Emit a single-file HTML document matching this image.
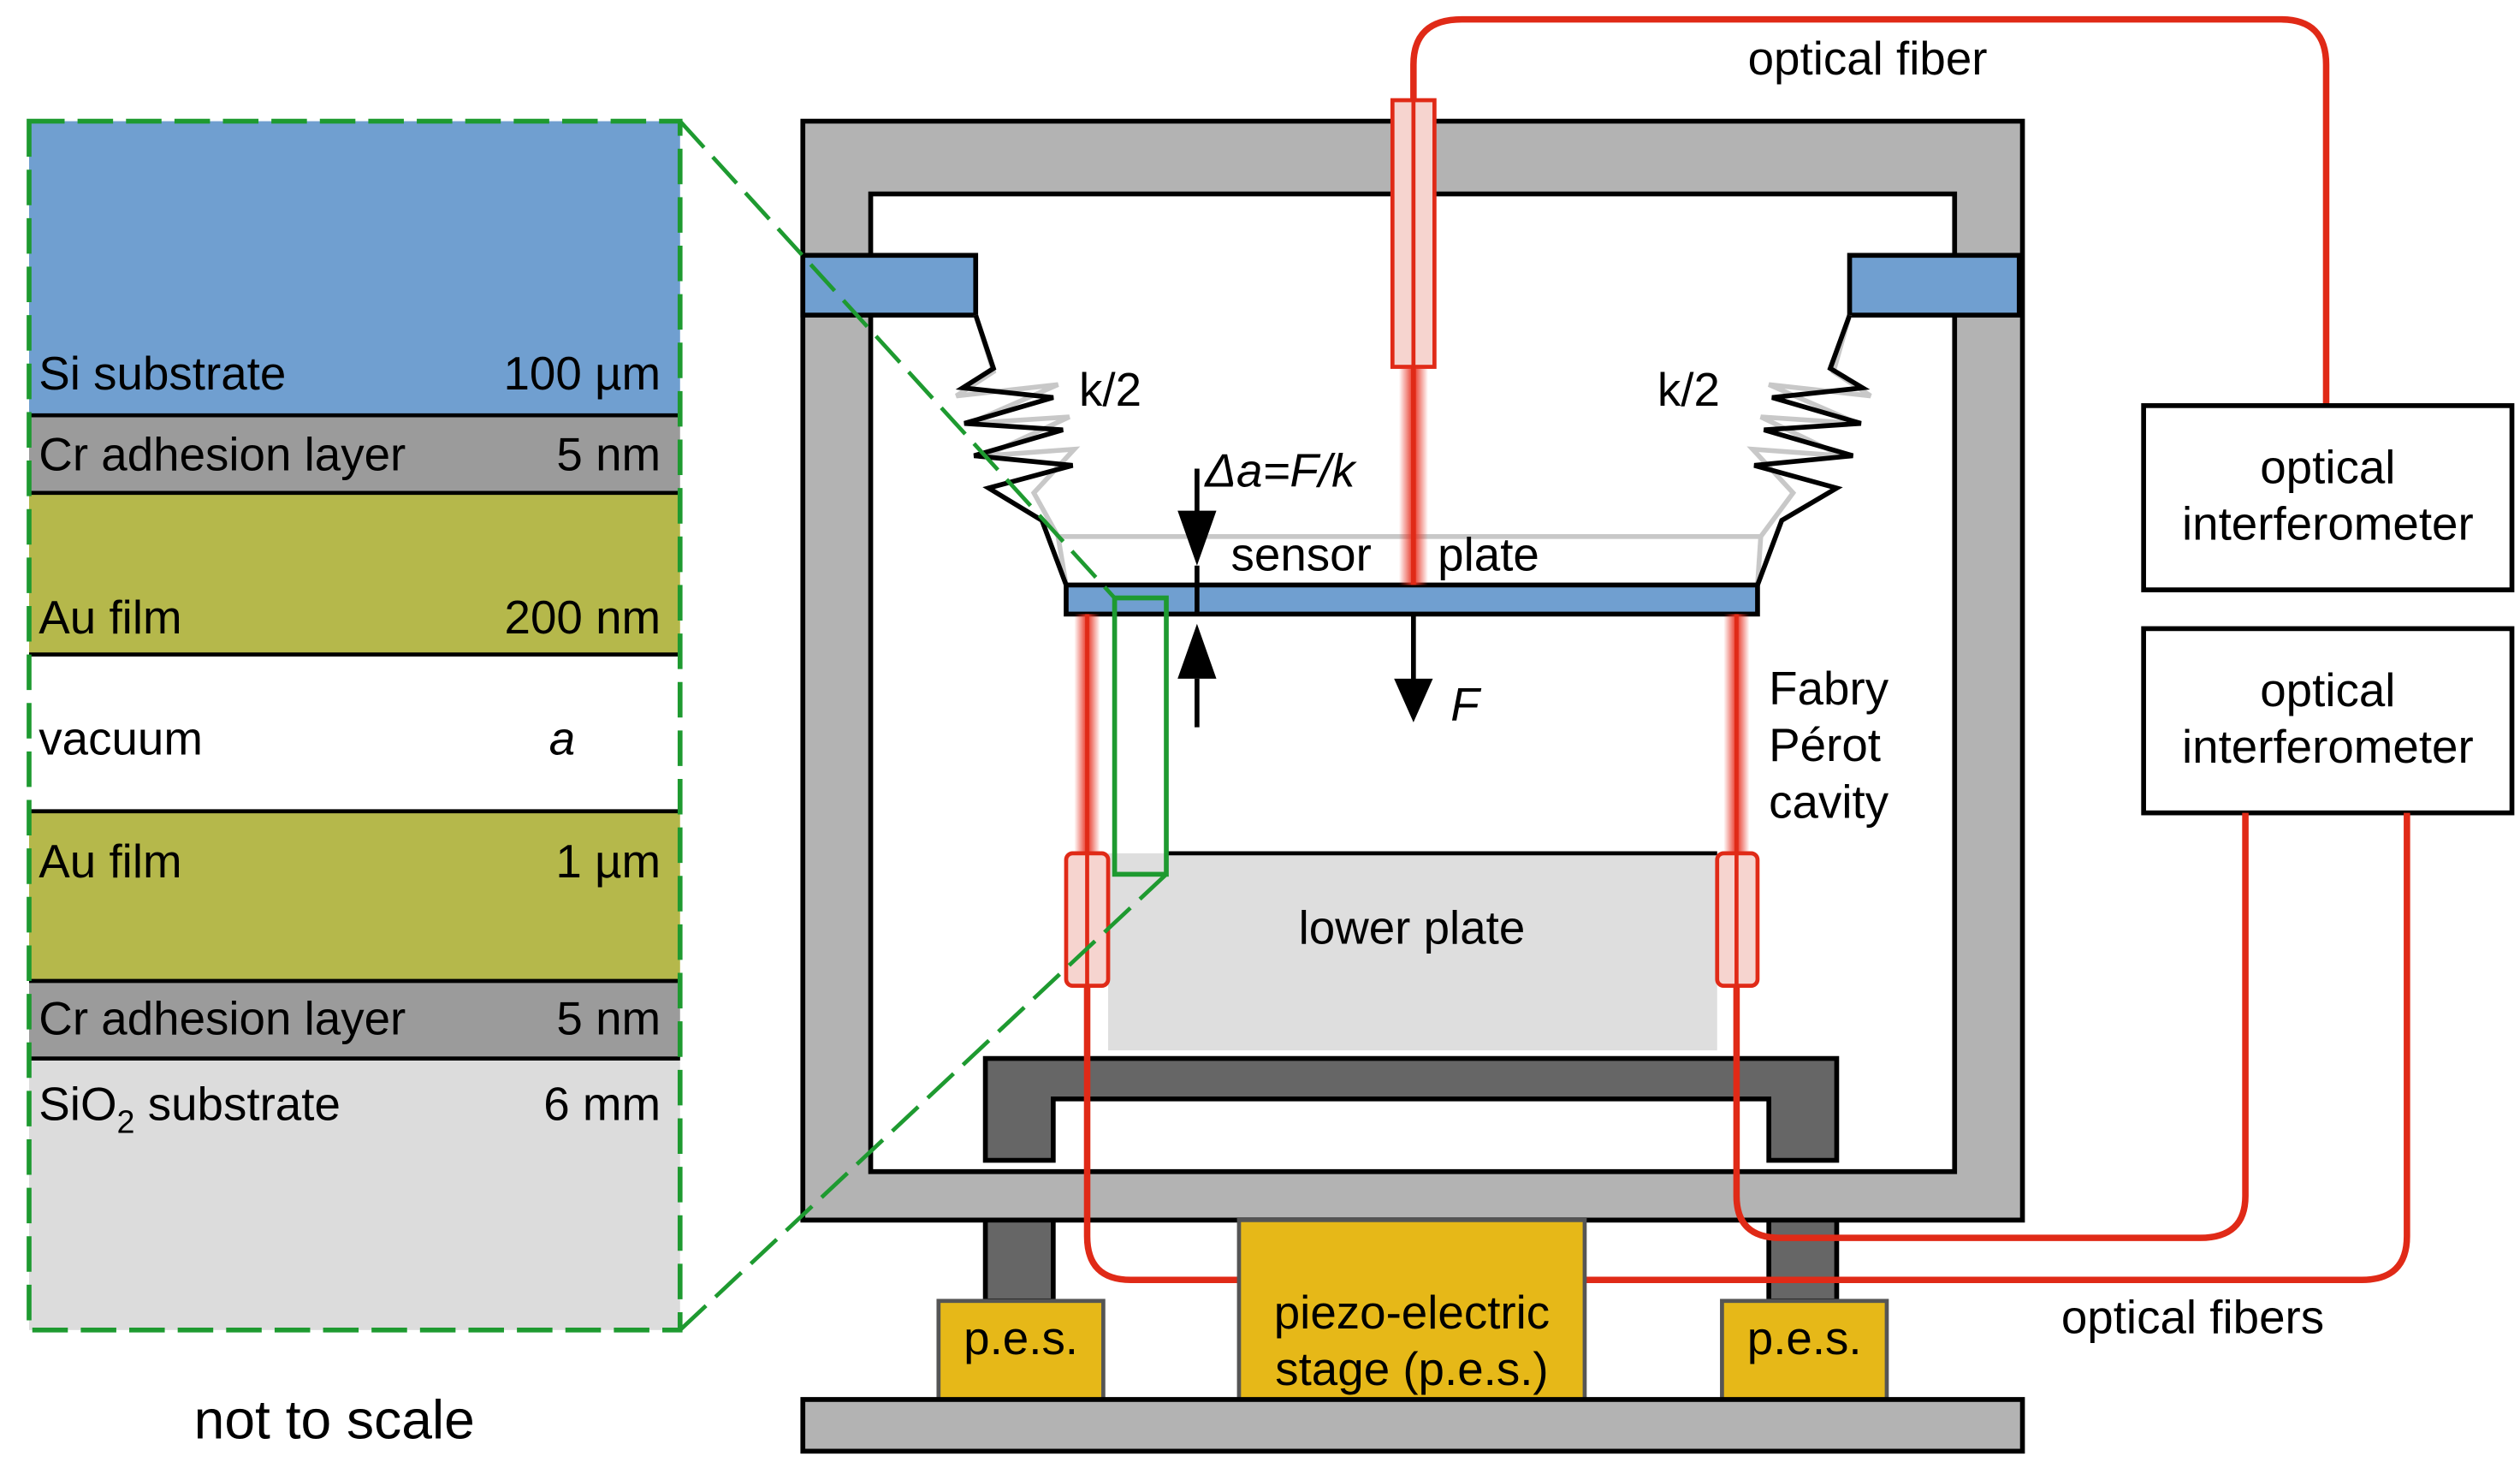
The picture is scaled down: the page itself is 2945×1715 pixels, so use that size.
<!DOCTYPE html>
<html><head><meta charset="utf-8"><style>
html,body{margin:0;padding:0;background:#fff}
svg{display:block}
text{font-family:"Liberation Sans","DejaVu Sans",sans-serif;fill:#000}
</style></head><body>
<svg width="2945" height="1715" viewBox="0 0 1560 908.4" preserveAspectRatio="none" xmlns="http://www.w3.org/2000/svg">
<defs>
<linearGradient id="beamH" x1="0" x2="1" y1="0" y2="0">
<stop offset="0" stop-color="#e83020" stop-opacity="0"/>
<stop offset="0.5" stop-color="#e83020" stop-opacity="1"/>
<stop offset="1" stop-color="#e83020" stop-opacity="0"/>
</linearGradient>
</defs>
<rect x="18" y="75" width="403" height="182" fill="#709fd0"/>
<rect x="18" y="257" width="403" height="48" fill="#9b9b9b"/>
<rect x="18" y="305" width="403" height="100" fill="#b5b84b"/>
<rect x="18" y="405" width="403" height="97" fill="#fff"/>
<rect x="18" y="502" width="403" height="105" fill="#b5b84b"/>
<rect x="18" y="607" width="403" height="48" fill="#9b9b9b"/>
<rect x="18" y="655" width="403" height="168" fill="#dcdcdc"/>
<g stroke="#000" stroke-width="2.5">
<line x1="18" y1="257" x2="421" y2="257"/><line x1="18" y1="305" x2="421" y2="305"/>
<line x1="18" y1="405" x2="421" y2="405"/><line x1="18" y1="502" x2="421" y2="502"/>
<line x1="18" y1="607" x2="421" y2="607"/><line x1="18" y1="655" x2="421" y2="655"/>
</g>
<rect x="18" y="75" width="403" height="748" fill="none" stroke="#1e9a30" stroke-width="3" stroke-dasharray="22,8"/>
<g font-size="29">
<text x="24" y="241">Si substrate</text><text x="409" y="241" text-anchor="end">100 µm</text>
<text x="24" y="291">Cr adhesion layer</text><text x="409" y="291" text-anchor="end">5 nm</text>
<text x="24" y="392">Au film</text><text x="409" y="392" text-anchor="end">200 nm</text>
<text x="24" y="467">vacuum</text><text x="348" y="467" font-style="italic" text-anchor="middle">a</text>
<text x="24" y="543">Au film</text><text x="409" y="543" text-anchor="end">1 µm</text>
<text x="24" y="640">Cr adhesion layer</text><text x="409" y="640" text-anchor="end">5 nm</text>
<text x="24" y="693">SiO<tspan font-size="20" dy="8">2</tspan><tspan dy="-8"> substrate</tspan></text><text x="409" y="693" text-anchor="end">6 mm</text>
</g>
<text x="207" y="890" font-size="34" text-anchor="middle">not to scale</text>

<path d="M497 75 H1252 V755 H497 Z M539 120 V725 H1210 V120 Z" fill="#b3b3b3" fill-rule="evenodd" stroke="#000" stroke-width="3"/>
<rect x="497" y="158" width="107" height="37" fill="#709fd0" stroke="#000" stroke-width="3"/>
<rect x="1145" y="158" width="105" height="37" fill="#709fd0" stroke="#000" stroke-width="3"/>

<g fill="none" stroke="#c8c8c8" stroke-width="3">
<polyline points="604,195 615,230 592,245 655,238 600,262 662,258 610,282 665,278 640,305 655,332"/>
<polyline points="1145,195 1135,230 1158,245 1095,238 1150,262 1090,258 1140,282 1085,278 1110,305 1090,332"/>
<line x1="655" y1="332" x2="1090" y2="332"/>
<line x1="655" y1="332" x2="660" y2="362"/>
<line x1="1090" y1="332" x2="1088" y2="362"/>
</g>
<g fill="none" stroke="#000" stroke-width="3">
<polyline points="604,195 615,228 596,240 652,246 597,262 658,266 603,282 664,288 612,302 645,322 660,362"/>
<polyline points="1145,195 1133,228 1153,240 1097,246 1152,262 1092,266 1147,282 1086,288 1137,302 1103,322 1088,362"/>
</g>
<text x="668" y="251" font-size="29">k/2</text>
<text x="1026" y="251" font-size="29">k/2</text>

<rect x="660" y="362" width="428" height="18" fill="#709fd0" stroke="#000" stroke-width="3"/>
<text x="762" y="353" font-size="29">sensor</text>
<text x="890" y="353" font-size="29">plate</text>

<path d="M875 62 V40 Q875 12 905 12 H1412 Q1440 12 1440 40 V250" fill="none" stroke="#e02a17" stroke-width="4"/>
<rect x="862" y="62" width="26" height="165" fill="#f6d4cf" stroke="#e02a17" stroke-width="2.5"/>
<line x1="875" y1="62" x2="875" y2="227" stroke="#e02a17" stroke-width="2.5"/>
<rect x="866" y="227" width="18" height="135" fill="url(#beamH)"/>
<line x1="875" y1="227" x2="875" y2="362" stroke="#e02a17" stroke-width="3"/>
<text x="1082" y="46" font-size="29">optical fiber</text>

<rect x="1327" y="251" width="228" height="114" fill="#fff" stroke="#000" stroke-width="3"/>
<rect x="1327" y="389" width="228" height="114" fill="#fff" stroke="#000" stroke-width="3"/>
<g font-size="29" text-anchor="middle">
<text x="1441" y="299">optical</text><text x="1441" y="334">interferometer</text>
<text x="1441" y="437">optical</text><text x="1441" y="472">interferometer</text>
</g>

<rect x="686" y="528" width="377" height="122" fill="#dedede"/>
<line x1="722" y1="528" x2="1063" y2="528" stroke="#000" stroke-width="2.5"/>
<text x="874" y="584" font-size="29" text-anchor="middle">lower plate</text>

<rect x="665" y="380" width="16" height="148" fill="url(#beamH)"/>
<rect x="1067" y="380" width="16" height="148" fill="url(#beamH)"/>
<line x1="673" y1="380" x2="673" y2="528" stroke="#e02a17" stroke-width="2.5"/>
<line x1="1075" y1="380" x2="1075" y2="528" stroke="#e02a17" stroke-width="2.5"/>

<path d="M610 655 H1137 V718 H1095 V680 H652 V718 H610 Z" fill="#666" stroke="#000" stroke-width="3"/>
<rect x="610" y="755" width="42" height="50" fill="#666" stroke="#000" stroke-width="3"/>
<rect x="1095" y="755" width="42" height="50" fill="#666" stroke="#000" stroke-width="3"/>

<path d="M673 610 V765 Q673 792 700 792 H1462 Q1490 792 1490 765 V503" fill="none" stroke="#e02a17" stroke-width="4"/>
<path d="M1075 610 V740 Q1075 766 1102 766 H1362 Q1390 766 1390 740 V503" fill="none" stroke="#e02a17" stroke-width="4"/>
<rect x="660" y="528" width="26" height="82" rx="4" fill="#f6d4cf" stroke="#e02a17" stroke-width="2.5"/>
<rect x="1063" y="528" width="25" height="82" rx="4" fill="#f6d4cf" stroke="#e02a17" stroke-width="2.5"/>
<line x1="673" y1="528" x2="673" y2="610" stroke="#e02a17" stroke-width="2.5"/>
<line x1="1075" y1="528" x2="1075" y2="610" stroke="#e02a17" stroke-width="2.5"/>
<text x="1276" y="825" font-size="29">optical fibers</text>

<rect x="581" y="805" width="102" height="61" fill="#e6b818" stroke="#555" stroke-width="2.5"/>
<rect x="767" y="755" width="214" height="111" fill="#e6b818" stroke="#555" stroke-width="2.5"/>
<rect x="1066" y="805" width="102" height="61" fill="#e6b818" stroke="#555" stroke-width="2.5"/>
<g font-size="29" text-anchor="middle">
<text x="632" y="838">p.e.s.</text><text x="1117" y="838">p.e.s.</text>
<text x="874" y="822">piezo-electric</text><text x="874" y="857">stage (p.e.s.)</text>
</g>
<rect x="497" y="866" width="755" height="32" fill="#b3b3b3" stroke="#000" stroke-width="3"/>

<g stroke="#000" stroke-width="3">
<line x1="875" y1="380" x2="875" y2="425"/>
<line x1="741" y1="290" x2="741" y2="330"/>
<line x1="741" y1="420" x2="741" y2="450"/>
<line x1="741" y1="350" x2="741" y2="380"/>
</g>
<polygon points="863,420 887,420 875,447" fill="#000"/>
<polygon points="729,316 753,316 741,350" fill="#000"/>
<polygon points="729,420 753,420 741,386" fill="#000"/>
<text x="898" y="446" font-size="29" font-style="italic">F</text>
<text x="746" y="301" font-size="29" font-style="italic">Δa=F/k</text>
<g font-size="29"><text x="1095" y="436">Fabry</text><text x="1095" y="471">Pérot</text><text x="1095" y="506">cavity</text></g>

<rect x="690" y="370" width="32" height="171" fill="none" stroke="#1e9a30" stroke-width="3"/>
<line x1="421" y1="75" x2="690" y2="370" stroke="#1e9a30" stroke-width="2.5" stroke-dasharray="22,8"/>
<line x1="421" y1="823" x2="722" y2="541" stroke="#1e9a30" stroke-width="2.5" stroke-dasharray="22,8"/>
</svg>
</body></html>
